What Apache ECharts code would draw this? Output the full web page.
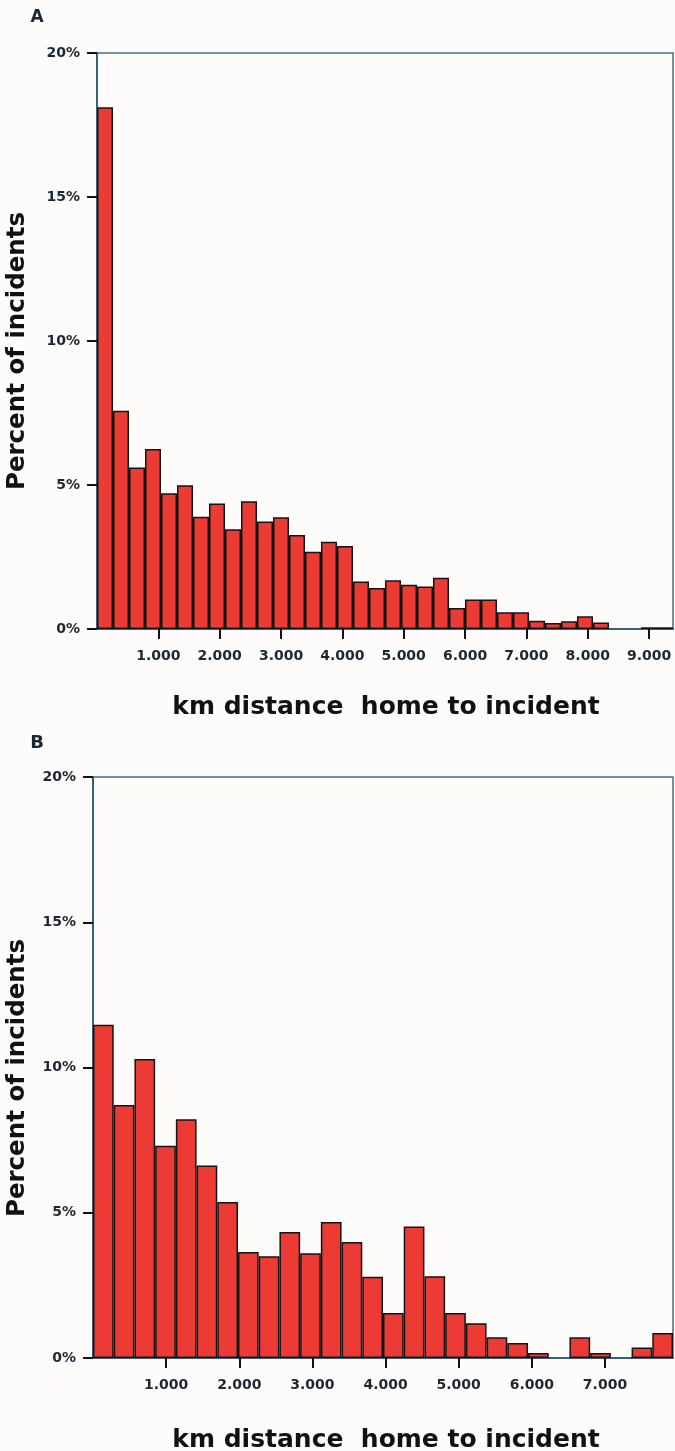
<!DOCTYPE html>
<html><head><meta charset="utf-8">
<script src="https://cdn.jsdelivr.net/npm/echarts@6/dist/echarts.min.js"></script>
<style>html,body{margin:0;padding:0;background:#fdfcfb}#c{width:675px;height:1451px}</style>
</head><body><div id="c"></div>
<script>
// Panel A: percent of incidents per distance bin (36 bins, 0 to ~9.39 km)
const percentA = [18.12, 7.58, 5.61, 6.25, 4.71, 4.99, 3.90, 4.36, 3.46, 4.44, 3.73, 3.88,
  3.26, 2.68, 3.03, 2.88, 1.65, 1.42, 1.69, 1.54, 1.48, 1.78, 0.73, 1.02,
  1.02, 0.58, 0.58, 0.29, 0.21, 0.27, 0.44, 0.23, null, null, 0.06, 0.06];
// Panel B: percent of incidents per distance bin (28 bins, 0 to ~7.93 km)
const percentB = [11.47, 8.71, 10.29, 7.31, 8.22, 6.63, 5.37, 3.65, 3.50, 4.34, 3.61, 4.68,
  3.99, 2.80, 1.55, 4.53, 2.81, 1.55, 1.20, 0.71, 0.52, 0.17, null, 0.71,
  0.17, null, 0.36, 0.86];
const kmMaxA = 9.39;
const kmMaxB = 7.93;
const xTicksA = [1, 2, 3, 4, 5, 6, 7, 8, 9];
const xTicksB = [1, 2, 3, 4, 5, 6, 7];
const yTicks = [0, 5, 10, 15, 20];
const panelLabels = ['A', 'B'];
const xTitle = 'km distance  home to incident';
const yTitle = 'Percent of incidents';

const catsA = percentA.map((_, i) => 'binA' + i);
const catsB = percentB.map((_, i) => 'binB' + i);

const axisLineColor = '#24506a';
const frameColor = '#3d7090';
const labelColor = '#1b2833';
const tickFont = {fontFamily: 'DejaVu Sans', fontWeight: 'bold', fontSize: 14, color: labelColor};

function valueXAxis(grid, max, ticks) {
  return {
    type: 'value', gridIndex: grid, min: 0, max: max, position: 'bottom',
    axisLine: {show: true, onZero: false, lineStyle: {color: axisLineColor, width: 1.5}},
    axisTick: {show: true, customValues: ticks, length: 10, inside: false, lineStyle: {color: '#111', width: 2}},
    axisLabel: Object.assign({customValues: ticks, margin: 20, formatter: v => v.toFixed(3)}, tickFont),
    splitLine: {show: false}
  };
}
function yAx(grid) {
  return {
    type: 'value', gridIndex: grid, min: 0, max: 20, interval: 5,
    axisLine: {show: true, lineStyle: {color: axisLineColor, width: 1.5}},
    axisTick: {show: true, length: 10, lineStyle: {color: '#111', width: 2}},
    axisLabel: Object.assign({margin: 17, formatter: v => yTicks.includes(v) ? v + '%' : ''}, tickFont),
    splitLine: {show: false}
  };
}
const barStyle = {color: '#ec3a35', borderColor: '#141414', borderWidth: 1.5};

const chart = echarts.init(document.getElementById('c'), null, {renderer: 'canvas'});
chart.setOption({
  backgroundColor: '#fdfcfb',
  animation: false,
  grid: [
    {left: 97, right: 2, top: 53, height: 576, show: true, borderColor: frameColor, borderWidth: 1.5, backgroundColor: 'transparent'},
    {left: 93, right: 2, top: 777, height: 581, show: true, borderColor: frameColor, borderWidth: 1.5, backgroundColor: 'transparent'}
  ],
  xAxis: [
    {type: 'category', gridIndex: 0, data: catsA, show: false, boundaryGap: true},
    valueXAxis(0, kmMaxA, xTicksA),
    {type: 'category', gridIndex: 1, data: catsB, show: false, boundaryGap: true},
    valueXAxis(1, kmMaxB, xTicksB)
  ],
  yAxis: [yAx(0), yAx(1)],
  series: [
    {type: 'bar', xAxisIndex: 0, yAxisIndex: 0, data: percentA, barCategoryGap: '0%', itemStyle: barStyle},
    {type: 'bar', xAxisIndex: 2, yAxisIndex: 1, data: percentB, barCategoryGap: '0%', itemStyle: barStyle}
  ],
  graphic: [
    {type: 'text', x: 37, y: 18, style: {text: panelLabels[0], font: 'bold 17px "DejaVu Sans"', fill: labelColor, align: 'center', verticalAlign: 'middle'}},
    {type: 'text', x: 37, y: 743, style: {text: panelLabels[1], font: 'bold 18px "DejaVu Sans"', fill: labelColor, align: 'center', verticalAlign: 'middle'}},
    {type: 'text', x: 386, y: 707, style: {text: xTitle, font: 'bold 25px "DejaVu Sans"', fill: '#111', align: 'center', verticalAlign: 'middle'}},
    {type: 'text', x: 386, y: 1440, style: {text: xTitle, font: 'bold 25px "DejaVu Sans"', fill: '#111', align: 'center', verticalAlign: 'middle'}},
    {type: 'text', x: 18, y: 351, rotation: Math.PI / 2, style: {text: yTitle, font: 'bold 24.5px "DejaVu Sans"', fill: '#111', align: 'center', verticalAlign: 'middle'}},
    {type: 'text', x: 18, y: 1078, rotation: Math.PI / 2, style: {text: yTitle, font: 'bold 24.5px "DejaVu Sans"', fill: '#111', align: 'center', verticalAlign: 'middle'}}
  ]
});
</script></body></html>
